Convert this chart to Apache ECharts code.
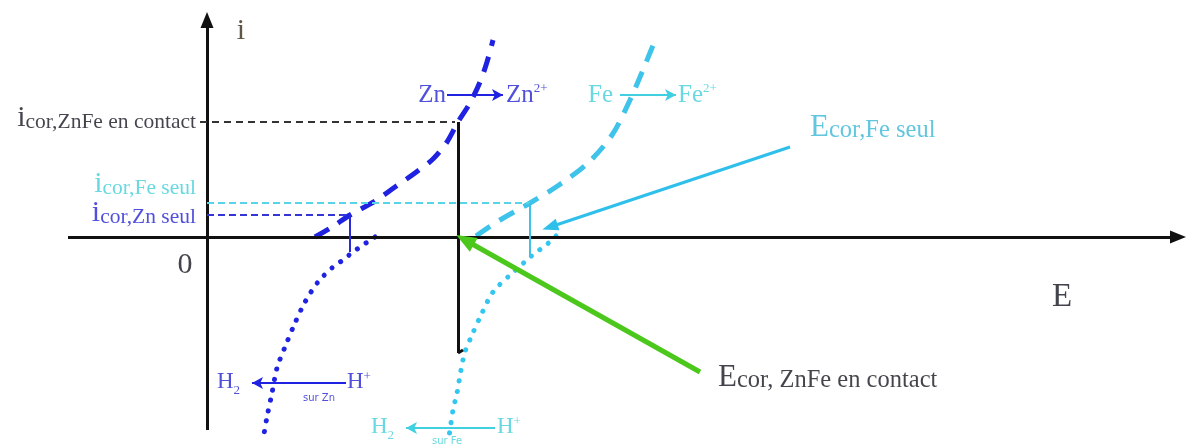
<!DOCTYPE html>
<html>
<head>
<meta charset="utf-8">
<title>Diagramme d'Evans – couple Zn / Fe</title>
<script src="https://cdn.jsdelivr.net/npm/echarts@6.0.0/dist/echarts.min.js"></script>
<style>
  html, body { margin: 0; padding: 0; background: #fff; }
  #chart { width: 1188px; height: 448px; }
</style>
</head>
<body>
<div id="chart"></div>
<script>
// Evans diagram: potential E (horizontal) against current i (vertical), arbitrary units.
// The i axis sits at E = 0, the E axis at i = 0.

// Anodic branches (metal oxidation)
const znAnodic = [[108,0],[125,10],[143,22],[168,36],[188,50],[208,64],[226,78],[240,95],[251,115],[263,134],[273,155],[280,175],[286,197]];
const feAnodic = [[269,1],[293,17],[323,34],[352,52],[381,74],[405,102],[423,137],[438,172],[449,199]];
// Cathodic branches (H+ reduction on each metal)
const znCathodic = [[168,0],[156,-8],[146,-15],[136,-23],[126,-30],[111,-45],[98,-65],[88,-86],[78,-110],[70,-131],[65,-156],[60,-180],[56,-203]];
const feCathodic = [[349,1],[338,-9],[328,-16],[320,-23],[303,-38],[286,-55],[275,-76],[265,-98],[258,-115],[254,-133],[250,-156],[246,-173],[243,-193],[241,-205]];

// Corrosion currents and potentials
const iCorContact = 115, iCorFe = 34, iCorZn = 22;
const eCorContact = 251, eCorFe = 323, eCorZn = 143;
const iCathodicContact = -116;

// Axis extents
const eAxisRange = [-139, 971];
const iAxisRange = [-193, 217];

// ---------------------------------------------------------------------------
const serif = 'Liberation Serif';
const dark = '#15151f';
const blue = '#1f22e0';
const blueText = '#2424d2';
const cyan = '#3ec3ea';
const cyanDot = '#33c6f0';
const cyanText = '#42cfda';
const green = '#4cc81c';

const chart = echarts.init(document.getElementById('chart'), null, { renderer: 'canvas' });

function seg(from, to, style, endSymbol, size) {
  return [
    { coord: from, symbol: 'none', lineStyle: Object.assign({ type: 'solid' }, style) },
    { coord: to, symbol: endSymbol || 'none', symbolSize: size || 1 }
  ];
}

const rich = {
  bigI: { fontFamily: serif, fontSize: 30, verticalAlign: 'bottom' },
  subI: { fontFamily: serif, fontSize: 21.5, verticalAlign: 'bottom' },
  bigE: { fontFamily: serif, fontSize: 31, verticalAlign: 'bottom' },
  subE: { fontFamily: serif, fontSize: 24.5, verticalAlign: 'bottom' },
  r:    { fontFamily: serif, fontSize: 25, verticalAlign: 'bottom' },
  h:    { fontFamily: serif, fontSize: 23, verticalAlign: 'bottom', padding: [0, 0, 4, 0] },
  sup:  { fontFamily: serif, fontSize: 13, verticalAlign: 'top' },
  low:  { fontFamily: serif, fontSize: 13, verticalAlign: 'bottom' },
  tiny: { fontFamily: 'DejaVu Sans', fontSize: 10, verticalAlign: 'middle' },
  ax:   { fontFamily: serif, fontSize: 30, verticalAlign: 'middle' },
  axE:  { fontFamily: serif, fontSize: 33, verticalAlign: 'middle' }
};

// Text labels: [text, anchor E, anchor i, colour, alignment]
const labels = [
  ['{ax|i}', 34, 206, '#3a2a1a', 'center'],
  ['{ax|0}', -22, -28, dark, 'center'],
  ['{axE|E}', 855, -60, dark, 'center'],
  ['{bigI|i}{subI|cor,ZnFe en contact}', -11, iCorContact + 4, dark, 'right'],
  ['{bigI|i}{subI|cor,Fe seul}', -11, iCorFe + 19, cyanText, 'right'],
  ['{bigI|i}{subI|cor,Zn seul}', -11, iCorZn + 2, blueText, 'right'],
  ['{r|Zn}', 239, 142, blueText, 'right'],
  ['{r|Zn}{sup|2+}', 299, 142, blueText, 'left'],
  ['{r|Fe}', 406, 142, cyanText, 'right'],
  ['{r|Fe}{sup|2+}', 471, 142, cyanText, 'left'],
  ['{bigE|E}{subE|cor,Fe seul}', 603, 109, '#3bb8d6', 'left'],
  ['{bigE|E}{subE|cor, ZnFe en contact}', 511, -141, dark, 'left'],
  ['{h|H}{low|2}', 10, -147, blueText, 'left'],
  ['{h|H}{sup|+}', 140, -147, blueText, 'left'],
  ['{tiny|sur Zn}', 96, -161, blueText, 'left'],
  ['{h|H}{low|2}', 164, -192, cyanText, 'left'],
  ['{h|H}{sup|+}', 290, -192, cyanText, 'left'],
  ['{tiny|sur Fe}', 225, -204, cyanText, 'left']
];

const curve = (data, color, dash, cap) => ({
  type: 'line', data: data, smooth: 0.3, showSymbol: false, symbol: 'none', silent: true,
  lineStyle: { color: color, width: 5, type: dash, cap: cap || 'butt' }, z: 3
});

const marks = [
  // axes
  seg([eAxisRange[0], 0], [eAxisRange[1], 0], { color: '#111', width: 3 }, 'triangle', [13, 16]),
  seg([0, iAxisRange[0]], [0, iAxisRange[1]], { color: '#111', width: 3 }, 'triangle', [13, 16]),
  // corrosion current guides
  seg([-7, iCorContact], [eCorContact - 3, iCorContact], { color: '#333', width: 2, type: [7, 5] }),
  seg([0, iCorFe], [eCorFe, iCorFe], { color: '#55d5e5', width: 2, type: [7, 4] }),
  seg([0, iCorZn], [eCorZn, iCorZn], { color: '#3535d5', width: 2, type: [7, 4] }),
  // corrosion potential markers
  seg([eCorZn, iCorZn], [eCorZn, -15], { color: '#2a2ad6', width: 2 }),
  seg([eCorFe, iCorFe], [eCorFe, -20], { color: '#40c0e8', width: 2 }),
  seg([eCorContact, iCorContact], [eCorContact, iCathodicContact], { color: '#111', width: 3 }),
  seg([eCorContact, iCathodicContact], [eCorContact + 5, iCathodicContact + 3], { color: '#111', width: 3 }),
  // pointer arrows
  seg([583, 90], [343, 10], { color: '#2ec0ea', width: 3 }, 'triangle', [12, 16]),
  seg([493, -135], [258, -3], { color: green, width: 5 }, 'triangle', [16, 20]),
  // reaction arrows
  seg([240, 142], [296, 142], { color: blue, width: 2 }, 'arrow', [9, 11]),
  seg([413, 142], [469, 142], { color: '#40d0e0', width: 2 }, 'arrow', [9, 11]),
  seg([139, -146], [45, -146], { color: blue, width: 2 }, 'arrow', [9, 11]),
  seg([288, -191], [199, -191], { color: '#40d0e0', width: 2 }, 'arrow', [9, 11])
];

const option = {
  animation: false,
  backgroundColor: '#ffffff',
  grid: { left: 0, right: 0, top: 0, bottom: 0 },
  xAxis: { type: 'value', min: -207, max: 981, show: false },
  yAxis: { type: 'value', min: -211, max: 237, show: false },
  series: [
    {
      type: 'line', data: [], silent: true, z: 2,
      markLine: {
        silent: true, animation: false, symbol: 'none',
        label: { show: false }, emphasis: { disabled: true },
        data: marks
      }
    },
    curve(znAnodic, blue, [16, 11]),
    curve(feAnodic, cyan, [17, 11]),
    curve(znCathodic, blue, [0.1, 10.5], 'round'),
    curve(feCathodic, cyanDot, [0.1, 10.5], 'round'),
    {
      type: 'scatter', symbolSize: 0, silent: true, z: 5,
      data: labels.map(l => ({
        value: [l[1], l[2]],
        label: {
          show: true, position: 'inside', formatter: l[0], rich: rich,
          color: l[3], align: l[4], verticalAlign: 'middle'
        }
      }))
    }
  ]
};

chart.setOption(option);
</script>
</body>
</html>
